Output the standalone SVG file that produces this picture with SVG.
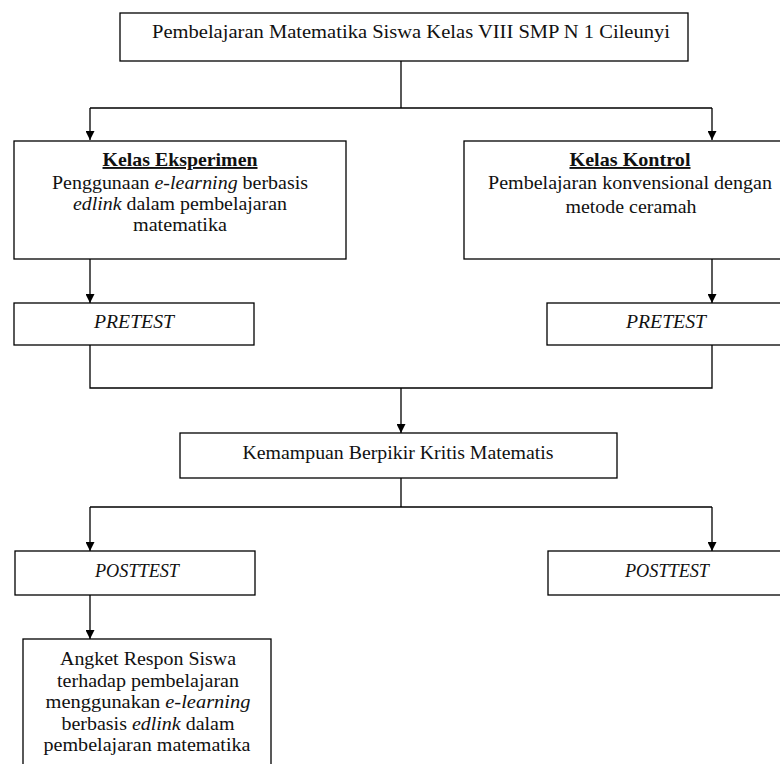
<svg xmlns="http://www.w3.org/2000/svg" width="780" height="764" viewBox="0 0 780 764">
<defs>
<marker id="arr" viewBox="0 0 10 10" refX="10" refY="5" markerWidth="9" markerHeight="9" markerUnits="userSpaceOnUse" orient="auto">
<path d="M0,0 L10,5 L0,10 z" fill="#000"/>
</marker>
<style>
.box{fill:#fff;stroke:#000;stroke-width:1.3}
.t{fill:#111;text-anchor:middle}
.c{fill:none;stroke:#000;stroke-width:1.3}
</style>
</defs>
<rect width="780" height="764" fill="#fff"/>
<g id="connectors">
<path class="c" d="M401,61 V108 M90,108 H712"/>
<path class="c" d="M90,108 V140" marker-end="url(#arr)"/>
<path class="c" d="M712,108 V140" marker-end="url(#arr)"/>
<path class="c" d="M90,259 V303" marker-end="url(#arr)"/>
<path class="c" d="M712,259 V303" marker-end="url(#arr)"/>
<path class="c" d="M90,345 V388 H712 V345"/>
<path class="c" d="M401,388 V433" marker-end="url(#arr)"/>
<path class="c" d="M401,478 V507 M90,507 H712"/>
<path class="c" d="M90,507 V551" marker-end="url(#arr)"/>
<path class="c" d="M712,507 V551" marker-end="url(#arr)"/>
<path class="c" d="M90,595 V639" marker-end="url(#arr)"/>
</g>
<g font-family="Liberation Serif" font-size="19">
<g id="top">
<rect class="box" x="120" y="13" width="568" height="48"/>
<text class="t" x="411" y="38" textLength="518" lengthAdjust="spacingAndGlyphs">Pembelajaran Matematika Siswa Kelas VIII SMP N 1 Cileunyi</text>
</g>
<g id="eksperimen">
<rect class="box" x="14" y="141" width="332" height="118"/>
<text class="t" x="180" y="166" font-weight="bold" text-decoration="underline" textLength="155" lengthAdjust="spacingAndGlyphs">Kelas Eksperimen</text>
<text class="t" x="180" y="189" textLength="256" lengthAdjust="spacingAndGlyphs">Penggunaan <tspan font-style="italic">e-learning</tspan> berbasis</text>
<text class="t" x="180" y="210" textLength="214" lengthAdjust="spacingAndGlyphs"><tspan font-style="italic">edlink</tspan> dalam pembelajaran</text>
<text class="t" x="180" y="231" textLength="94" lengthAdjust="spacingAndGlyphs">matematika</text>
</g>
<g id="kontrol">
<rect class="box" x="464" y="141" width="332" height="118"/>
<text class="t" x="630" y="166" font-weight="bold" text-decoration="underline" textLength="121" lengthAdjust="spacingAndGlyphs">Kelas Kontrol</text>
<text class="t" x="630" y="189" textLength="284" lengthAdjust="spacingAndGlyphs">Pembelajaran konvensional dengan</text>
<text class="t" x="631" y="213" textLength="131" lengthAdjust="spacingAndGlyphs">metode ceramah</text>
</g>
<g id="pretest-left">
<rect class="box" x="14" y="303" width="240" height="42"/>
<text class="t" x="134" y="328" font-style="italic" textLength="80" lengthAdjust="spacingAndGlyphs">PRETEST</text>
</g>
<g id="pretest-right">
<rect class="box" x="547" y="303" width="240" height="42"/>
<text class="t" x="666" y="328" font-style="italic" textLength="80" lengthAdjust="spacingAndGlyphs">PRETEST</text>
</g>
<g id="kemampuan">
<rect class="box" x="180" y="433" width="437" height="45"/>
<text class="t" x="398" y="459" textLength="311" lengthAdjust="spacingAndGlyphs">Kemampuan Berpikir Kritis Matematis</text>
</g>
<g id="posttest-left">
<rect class="box" x="15" y="551" width="240" height="44"/>
<text class="t" x="137" y="577" font-style="italic" textLength="84" lengthAdjust="spacingAndGlyphs">POSTTEST</text>
</g>
<g id="posttest-right">
<rect class="box" x="548" y="551" width="240" height="44"/>
<text class="t" x="667" y="577" font-style="italic" textLength="84" lengthAdjust="spacingAndGlyphs">POSTTEST</text>
</g>
<g id="angket">
<rect class="box" x="23" y="639" width="248" height="140"/>
<text class="t" x="148" y="665" textLength="176" lengthAdjust="spacingAndGlyphs">Angket Respon Siswa</text>
<text class="t" x="148" y="687" textLength="182" lengthAdjust="spacingAndGlyphs">terhadap pembelajaran</text>
<text class="t" x="148" y="708" textLength="205" lengthAdjust="spacingAndGlyphs">menggunakan  <tspan font-style="italic">e-learning</tspan></text>
<text class="t" x="148" y="730" textLength="173" lengthAdjust="spacingAndGlyphs">berbasis <tspan font-style="italic">edlink</tspan> dalam</text>
<text class="t" x="147" y="751" textLength="207" lengthAdjust="spacingAndGlyphs">pembelajaran matematika</text>
</g>
</g>
</svg>
